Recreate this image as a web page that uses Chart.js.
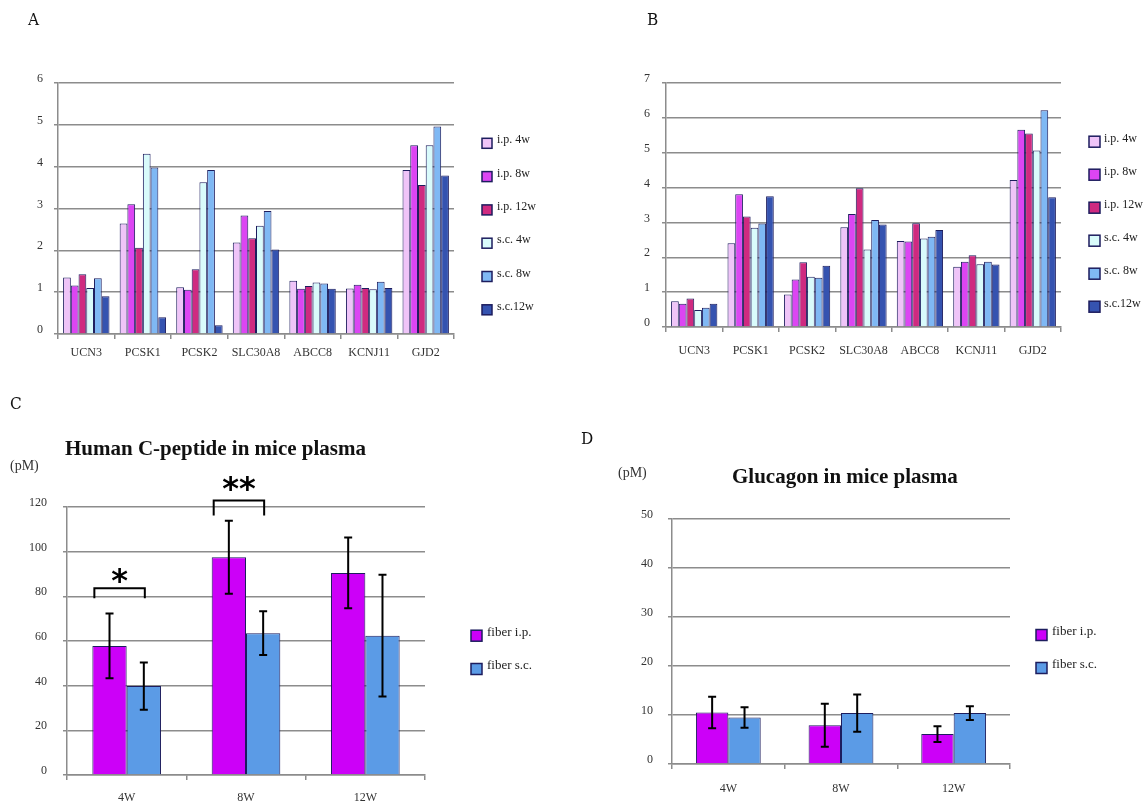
<!DOCTYPE html>
<html>
<head>
<meta charset="utf-8">
<script src="https://cdn.jsdelivr.net/npm/chart.js@4.4.1/dist/chart.umd.min.js"></script>
<style>
  body { margin: 0; background: #fff; }
  #fig { position: relative; width: 1144px; height: 807px; overflow: hidden;
         font-family: "Liberation Serif", "DejaVu Serif", serif; color: #111; }
  #fig canvas { position: absolute; }
  .lbl { position: absolute; white-space: nowrap; line-height: 1; }
  .letter { font-family: "DejaVu Serif Condensed", "DejaVu Serif", serif; font-size: 17px; }
  .title { font-weight: bold; font-size: 21px; }
  .unit { font-size: 14px; color: #333; }
</style>
</head>
<body>
<div id="fig">
  <canvas id="chartA" width="572" height="400" style="left:0;top:0"></canvas>
  <canvas id="chartB" width="572" height="400" style="left:572px;top:0"></canvas>
  <canvas id="chartC" width="572" height="407" style="left:0;top:400px"></canvas>
  <canvas id="chartD" width="572" height="407" style="left:572px;top:400px"></canvas>

  <div class="lbl letter" style="left:28px;top:11px">A</div>
  <div class="lbl letter" style="left:647px;top:11px">B</div>
  <div class="lbl letter" style="left:10px;top:395px">C</div>
  <div class="lbl letter" style="left:581px;top:430px">D</div>

  <div class="lbl title" style="left:65px;top:438px">Human C-peptide in mice plasma</div>
  <div class="lbl title" style="left:732px;top:466px">Glucagon in mice plasma</div>
  <div class="lbl unit" style="left:10px;top:459px">(pM)</div>
  <div class="lbl unit" style="left:618px;top:466px">(pM)</div>
</div>

<script>
// --- data ---
const genes = ["UCN3", "PCSK1", "PCSK2", "SLC30A8", "ABCC8", "KCNJ11", "GJD2"];
const groupLabels = ["i.p. 4w", "i.p. 8w", "i.p. 12w", "s.c. 4w", "s.c. 8w", "s.c.12w"];
const groupColors = ["#efc4f8", "#dc45f3", "#cf2a80", "#d9fbfb", "#7fb8f4", "#3553b0"];

// panel A
const ip4wA  = [1.35, 2.64, 1.12, 2.19, 1.27, 1.09, 3.92];
const ip8wA  = [1.16, 3.10, 1.06, 2.83, 1.08, 1.18, 4.51];
const ip12wA = [1.43, 2.06, 1.55, 2.29, 1.15, 1.10, 3.56];
const sc4wA  = [1.10, 4.31, 3.63, 2.59, 1.23, 1.07, 4.51];
const sc8wA  = [1.33, 3.98, 3.92, 2.94, 1.21, 1.25, 4.96];
const sc12wA = [0.90, 0.40, 0.21, 2.02, 1.08, 1.10, 3.79];

// panel B
const ip4wB  = [0.74, 2.40, 0.93, 2.86, 2.47, 1.73, 4.22];
const ip8wB  = [0.67, 3.81, 1.36, 3.24, 2.45, 1.87, 5.66];
const ip12wB = [0.82, 3.17, 1.86, 3.98, 2.98, 2.06, 5.55];
const sc4wB  = [0.49, 2.85, 1.44, 2.22, 2.54, 1.80, 5.06];
const sc8wB  = [0.55, 2.97, 1.41, 3.07, 2.59, 1.87, 6.22];
const sc12wB = [0.67, 3.75, 1.76, 2.94, 2.78, 1.79, 3.72];

// panels C and D
const weeks = ["4W", "8W", "12W"];
const fiberLabels = ["fiber i.p.", "fiber s.c."];
const fiberColors = ["#cc00f8", "#5b9be6"];

const cpepIp = [57.8, 97.5, 90.5];
const cpepIpErr = [14.5, 16.3, 15.8];
const cpepSc = [39.8, 63.5, 62.4];
const cpepScErr = [10.6, 9.8, 27.3];

const glucIp = [10.5, 7.9, 6.1];
const glucIpErr = [3.2, 4.4, 1.6];
const glucSc = [9.5, 10.4, 10.4];
const glucScErr = [2.1, 3.8, 1.4];

// significance marks on C (category index, bracket height, leg end, text)
const cpepSig = [
  { index: 0, top: 83.6, leg: 79.1, text: "*", lift: 13 },
  { index: 1, top: 122.9, leg: 116.2, text: "**", lift: 17 }
];

const gridGrey = "#8c8c8c";
const barEdge = "#1d1d5e";
const tickFont = { family: "Liberation Serif", size: 12 };
const yAxisWidth = 50;

// legend drawn as a box column at a fixed spot
const boxLegend = {
  id: "boxLegend",
  afterDraw(chart, args, opts) {
    const ctx = chart.ctx;
    ctx.save();
    chart.data.datasets.forEach((ds, i) => {
      const cy = opts.y + i * opts.step;
      const s = opts.size;
      ctx.fillStyle = ds.backgroundColor;
      ctx.fillRect(opts.x, cy - s / 2, s, s);
      ctx.strokeStyle = barEdge;
      ctx.lineWidth = 1.5;
      ctx.strokeRect(opts.x, cy - s / 2, s, s);
      ctx.fillStyle = "#222";
      ctx.font = opts.fontSize + "px 'Liberation Serif'";
      ctx.textBaseline = "middle";
      ctx.textAlign = "left";
      ctx.fillText(ds.label, opts.x + s + opts.gap, cy - 3);
    });
    ctx.restore();
  }
};

const errorBars = {
  id: "errorBars",
  afterDatasetsDraw(chart) {
    const { ctx } = chart;
    const y = chart.scales.y;
    ctx.save();
    ctx.strokeStyle = "#000";
    ctx.lineWidth = 2;
    chart.data.datasets.forEach((ds, i) => {
      if (!ds.errors) return;
      chart.getDatasetMeta(i).data.forEach((bar, j) => {
        const top = y.getPixelForValue(ds.data[j] + ds.errors[j]);
        const bot = y.getPixelForValue(ds.data[j] - ds.errors[j]);
        ctx.beginPath();
        ctx.moveTo(bar.x, top); ctx.lineTo(bar.x, bot);
        ctx.moveTo(bar.x - 4, top); ctx.lineTo(bar.x + 4, top);
        ctx.moveTo(bar.x - 4, bot); ctx.lineTo(bar.x + 4, bot);
        ctx.stroke();
      });
    });
    ctx.restore();
  }
};

const sigMarks = {
  id: "sigMarks",
  afterDraw(chart, args, opts) {
    if (!opts.pairs) return;
    const { ctx } = chart;
    const y = chart.scales.y;
    const a = chart.getDatasetMeta(0).data;
    const b = chart.getDatasetMeta(1).data;
    ctx.save();
    ctx.strokeStyle = "#000";
    ctx.lineWidth = 2;
    opts.pairs.forEach(p => {
      const x1 = a[p.index].x - a[p.index].width / 2 + 2;
      const x2 = b[p.index].x + 1;
      const yt = y.getPixelForValue(p.top);
      const yl = y.getPixelForValue(p.leg);
      ctx.beginPath();
      ctx.moveTo(x1, yl); ctx.lineTo(x1, yt); ctx.lineTo(x2, yt); ctx.lineTo(x2, yl);
      ctx.stroke();
      ctx.font = "bold 32px 'DejaVu Sans'";
      ctx.fillStyle = "#000";
      ctx.textAlign = "center";
      ctx.textBaseline = "alphabetic";
      const m = ctx.measureText(p.text);
      const cy = yt - p.lift;
      ctx.fillText(p.text, (x1 + x2) / 2, cy + (m.actualBoundingBoxAscent - m.actualBoundingBoxDescent) / 2);
    });
    ctx.restore();
  }
};

function barChart(id, labels, datasets, o) {
  return new Chart(document.getElementById(id), {
    type: "bar",
    data: { labels: labels, datasets: datasets },
    options: {
      responsive: false,
      animation: false,
      devicePixelRatio: 1,
      layout: { padding: o.padding },
      datasets: {
        bar: { categoryPercentage: o.catPct, barPercentage: 1, borderWidth: 1, borderColor: barEdge }
      },
      scales: {
        x: {
          grid: { drawOnChartArea: false, color: gridGrey, lineWidth: 1.5, tickLength: 5 },
          border: { color: gridGrey, width: 1.5 },
          ticks: { font: tickFont, color: "#333", padding: o.xPad, maxRotation: 0, autoSkip: false },
          afterFit: s => { s.height = 30; }
        },
        y: {
          min: 0,
          max: o.yMax,
          ticks: { stepSize: o.step, font: tickFont, color: "#333", padding: o.yPad, labelOffset: -4 },
          grid: { color: gridGrey, lineWidth: 1.5, tickLength: 4 },
          border: { color: gridGrey, width: 1.5 },
          afterFit: s => { s.width = yAxisWidth; }
        }
      },
      plugins: {
        legend: { display: false },
        tooltip: { enabled: false },
        boxLegend: o.legend,
        sigMarks: { pairs: o.sig }
      }
    },
    plugins: [errorBars, boxLegend, sigMarks]
  });
}

function geneSets(series) {
  return series.map((d, i) => ({ label: groupLabels[i], data: d, backgroundColor: groupColors[i] }));
}

barChart("chartA", genes, geneSets([ip4wA, ip8wA, ip12wA, sc4wA, sc8wA, sc12wA]), {
  padding: { left: 58 - yAxisWidth, top: 83, right: 118, bottom: 36 },
  catPct: 0.82, yMax: 6, step: 1, xPad: 7, yPad: 11,
  legend: { x: 482, y: 143.3, step: 33.3, size: 10, gap: 5, fontSize: 12 }
});

barChart("chartB", genes, geneSets([ip4wB, ip8wB, ip12wB, sc4wB, sc8wB, sc12wB]), {
  padding: { left: 94 - yAxisWidth, top: 83, right: 83, bottom: 43 },
  catPct: 0.82, yMax: 7, step: 1, xPad: 12, yPad: 12,
  legend: { x: 517, y: 141.7, step: 33, size: 11, gap: 4, fontSize: 12 }
});

barChart("chartC", weeks, [
  { label: fiberLabels[0], data: cpepIp, errors: cpepIpErr, backgroundColor: fiberColors[0] },
  { label: fiberLabels[1], data: cpepSc, errors: cpepScErr, backgroundColor: fiberColors[1] }
], {
  padding: { left: 67 - yAxisWidth, top: 107, right: 147, bottom: 2 },
  catPct: 0.575, yMax: 120, step: 20, xPad: 11, yPad: 16,
  legend: { x: 471, y: 235.7, step: 33.3, size: 11, gap: 5, fontSize: 13 },
  sig: cpepSig
});

barChart("chartD", weeks, [
  { label: fiberLabels[0], data: glucIp, errors: glucIpErr, backgroundColor: fiberColors[0] },
  { label: fiberLabels[1], data: glucSc, errors: glucScErr, backgroundColor: fiberColors[1] }
], {
  padding: { left: 100 - yAxisWidth, top: 119, right: 134, bottom: 13 },
  catPct: 0.575, yMax: 50, step: 10, xPad: 13, yPad: 15,
  legend: { x: 464, y: 235, step: 33, size: 11, gap: 5, fontSize: 13 }
});
</script>
</body>
</html>
